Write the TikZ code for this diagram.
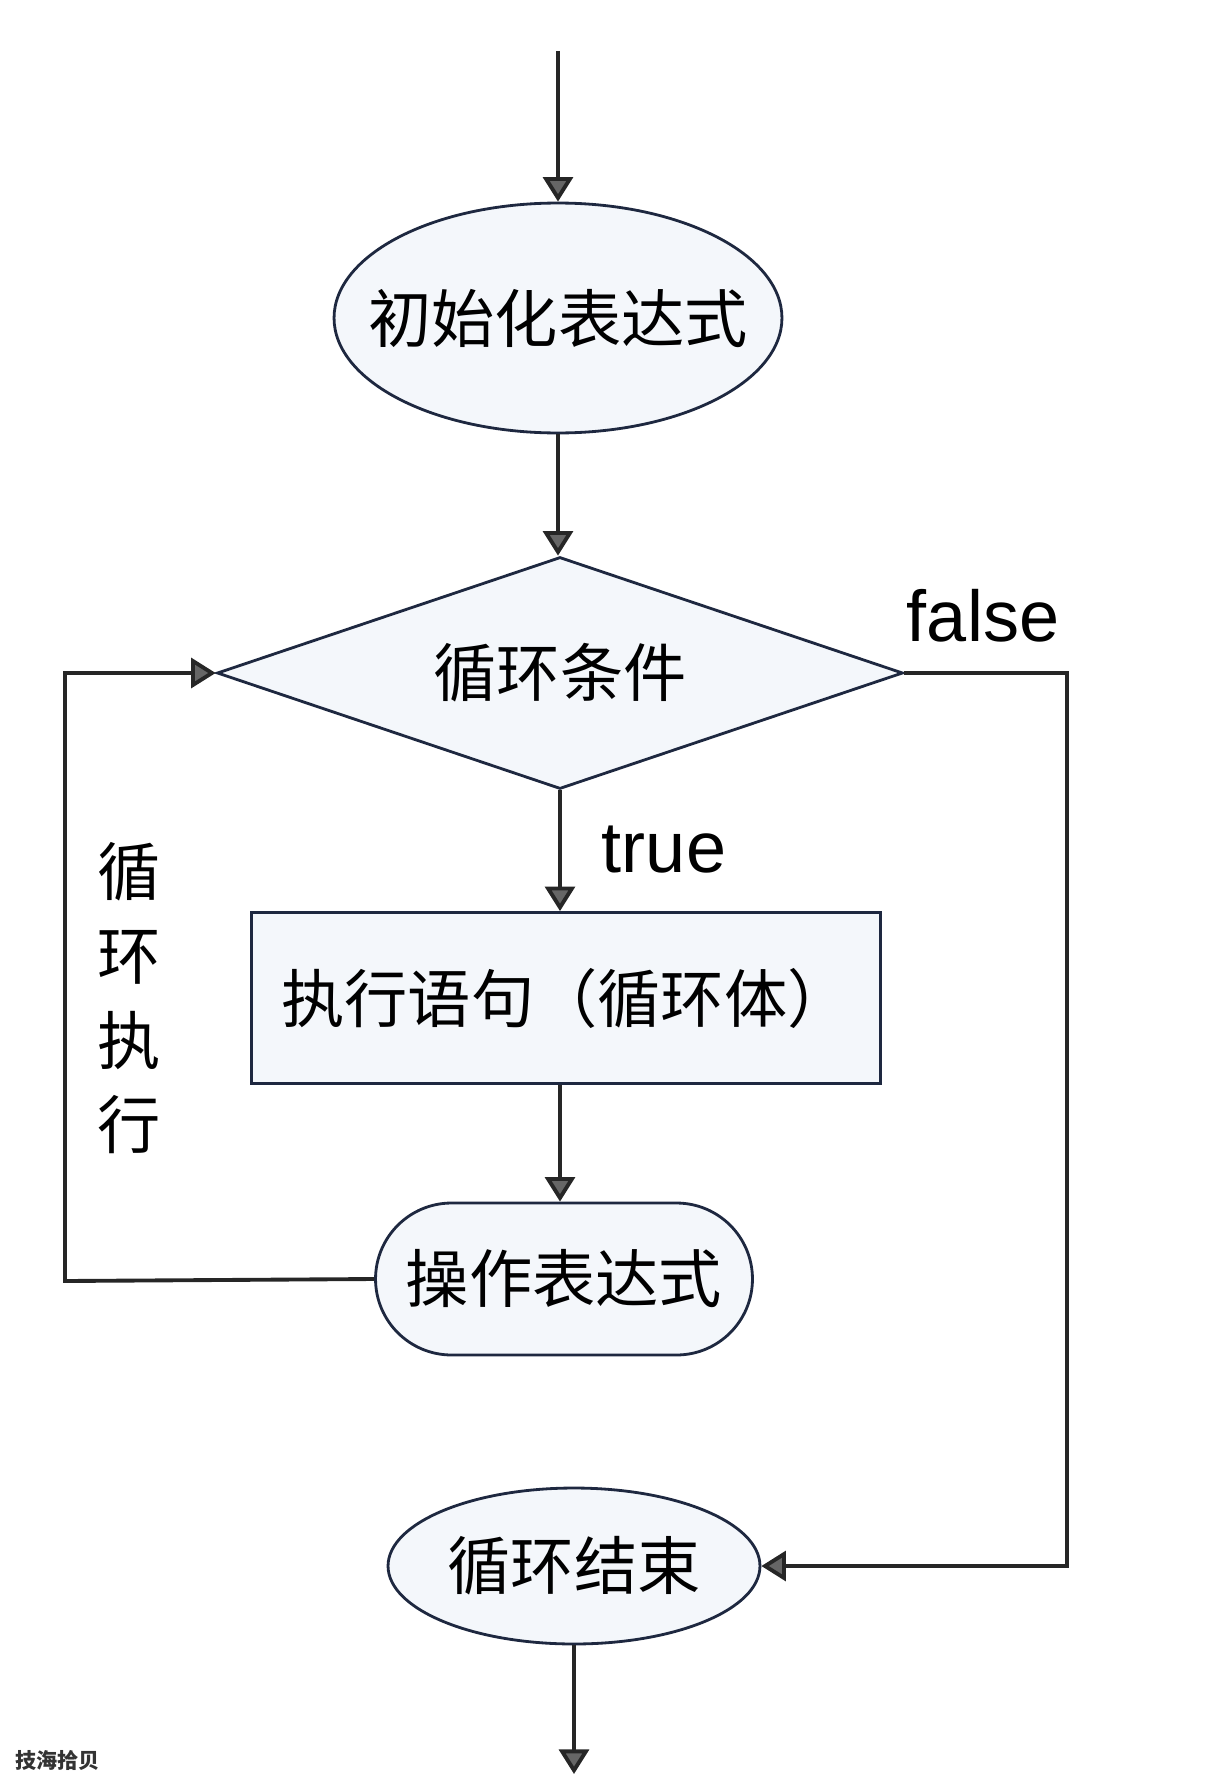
\documentclass[tikz,border=0pt]{standalone}
\usepackage{fontspec}
\newfontfamily\cjk{Noto Sans CJK SC}
\newfontfamily\lab{Liberation Sans}
\usetikzlibrary{shapes,arrows.meta,positioning,calc}
\definecolor{shapefill}{HTML}{F4F7FB}
\definecolor{edgeblue}{HTML}{1E2840}
\definecolor{tipgray}{HTML}{666666}
\tikzset{
    ell/.style={draw=edgeblue,fill=shapefill,ellipse,line width=1.6pt,inner ysep=0pt,inner xsep=-0.7cm,align=center,font=\cjk\fontsize{36}{40}\selectfont},
    dia/.style={draw=edgeblue,fill=shapefill,diamond,aspect=3,line width=1.6pt,inner sep=0pt,align=center,font=\cjk\fontsize{36}{40}\selectfont},
    box/.style={draw=edgeblue,fill=shapefill,rectangle,line width=1.6pt,inner sep=0pt,align=center,font=\cjk\fontsize{36}{40}\selectfont},
    pill/.style={draw=edgeblue,fill=shapefill,rounded rectangle,line width=1.6pt,inner sep=0pt,align=center,font=\cjk\fontsize{36}{40}\selectfont},
    lbl/.style={font=\lab\fontsize{41}{45}\selectfont},
    line/.style={-,line width=2.2pt,draw=black!85},
    flow/.style={line,-{Triangle[width=17pt,length=14pt,fill=tipgray]}},
}

\begin{document}
\begin{tikzpicture}[x=0.02cm,y=-0.02cm]
    \useasboundingbox (0,0) rectangle (1208,1788);
    \node[ell,minimum width=8.96cm,minimum height=4.6cm] (init) at (558,318) {初始化表达式};
    \node[dia,minimum width=13.72cm,minimum height=4.64cm] (cond) at (560,673) {循环条件};
    \node[box,minimum width=12.58cm,minimum height=3.42cm] (body) at (566,998) {执行语句（循环体）};
    \node[pill,minimum width=7.54cm,minimum height=3.04cm] (upd) at (564,1279) {操作表达式};
    \node[ell,minimum width=7.44cm,minimum height=3.12cm] (done) at (574,1566) {循环结束};
    \coordinate (start) at (558,51);
    \coordinate (stop) at (574,1774);
    \coordinate (loopL) at (65,1281);
    \coordinate (loopR) at (1067,673);
    \node[lbl] (fl) at (983,616) {false};
    \node[lbl] (tr) at (664,850) {true};
    \node[align=center,font=\cjk\fontsize{36}{48}\selectfont] (back) at (129,998) {循\\环\\执\\行};
    \node[anchor=west,font=\cjk\bfseries\fontsize{12}{14}\selectfont,text=black!80] (mark) at (9,1760) {技海拾贝};
    \draw[flow] (start) -- (init.north);
    \draw[flow] (init.south) -- (init.south |- cond.north);
    \draw[flow] (cond.south) -- (cond.south |- body.north);
    \draw[flow] (cond.south |- body.south) -- (cond.south |- upd.north);
    \draw[flow] (done.south) -- (stop);
    \draw[flow] (upd.west) -- (loopL) |- (cond.west);
    \draw[flow] (cond.east) -- (loopR) |- (done.east);
\end{tikzpicture}
\end{document}
